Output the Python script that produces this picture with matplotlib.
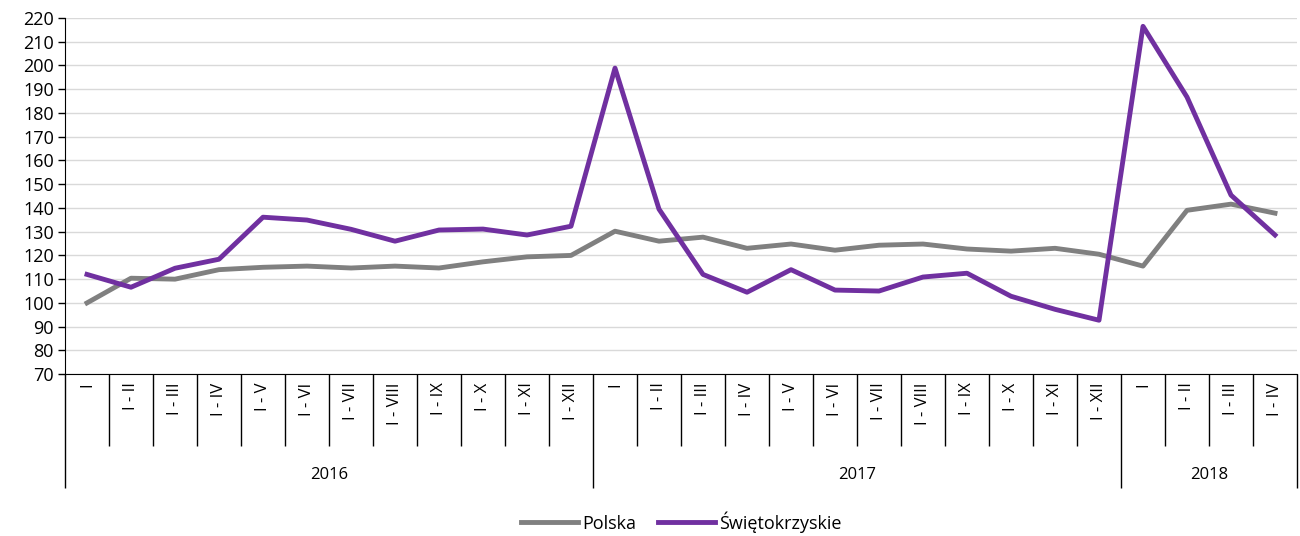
import matplotlib.pyplot as plt
from matplotlib.transforms import blended_transform_factory

plt.rcParams['font.family'] = ['Open Sans', 'DejaVu Sans']

# periods (cumulative months) and years
periods = ['I', 'I - II', 'I - III', 'I - IV', 'I - V', 'I - VI', 'I - VII', 'I - VIII',
           'I - IX', 'I - X', 'I - XI', 'I - XII'] * 2 + ['I', 'I - II', 'I - III', 'I - IV']
years = ['2016', '2017', '2018']
year_sizes = [12, 12, 4]

polska = [100.0, 110.4, 110.0, 114.0, 115.0, 115.5, 114.7, 115.5, 114.7, 117.3, 119.4, 120.0,
          130.2, 126.0, 127.7, 123.0, 124.8, 122.2, 124.3, 124.8, 122.7, 121.8, 123.0, 120.5,
          115.5, 139.0, 141.6, 137.8]
swietokrzyskie = [112.0, 106.6, 114.6, 118.4, 136.1, 134.9, 131.0, 126.0, 130.7, 131.1, 128.6, 132.3,
                  198.9, 139.5, 112.0, 104.5, 114.0, 105.4, 105.0, 110.9, 112.5, 102.8, 97.3, 92.7,
                  216.5, 186.7, 145.4, 128.6]

fig = plt.figure(figsize=(13, 5.36), dpi=100)
ax = fig.add_axes([0.05, 0.302, 0.9477, 0.6644])

x = [i + 0.5 for i in range(len(periods))]
ax.plot(x, polska, color='#808080', linewidth=3.5, label='Polska', zorder=3)
ax.plot(x, swietokrzyskie, color='#7030A0', linewidth=3.5, label='Świętokrzyskie', zorder=3)

ax.set_xlim(0, len(periods))
ax.set_ylim(70, 220)
ax.set_yticks(range(70, 221, 10))
ax.tick_params(axis='y', labelsize=13, length=5, width=1, pad=3)
ax.grid(axis='y', color='#d9d9d9', linewidth=1, zorder=1)

for s in ['top', 'right']:
    ax.spines[s].set_visible(False)

# x axis: cell borders as ticks, year borders longer
bounds = [0]
for n in year_sizes:
    bounds.append(bounds[-1] + n)
ax.set_xticks(bounds)
ax.set_xticklabels([])
ax.set_xticks([i for i in range(len(periods) + 1) if i not in bounds], minor=True)
ax.tick_params(axis='x', which='major', length=82, width=1, direction='out')
ax.tick_params(axis='x', which='minor', length=52, width=1, direction='out')

trans = blended_transform_factory(ax.transData, ax.transAxes)
for xi, lab in zip(x, periods):
    ax.annotate(lab, xy=(xi, 0), xycoords=trans, xytext=(0, -6), textcoords='offset points',
                rotation=90, ha='center', va='top', fontsize=12)

start = 0
for y, n in zip(years, year_sizes):
    ax.annotate(y, xy=(start + n / 2, 0), xycoords=trans, xytext=(0, -67),
                textcoords='offset points', ha='center', va='top', fontsize=12)
    start += n

ax.legend(loc='center', bbox_to_anchor=(0.5, -0.415), ncol=2, frameon=False,
          fontsize=13, handlelength=3.2, handletextpad=0.2, columnspacing=1.2)

fig.savefig('out.png', dpi=100)
